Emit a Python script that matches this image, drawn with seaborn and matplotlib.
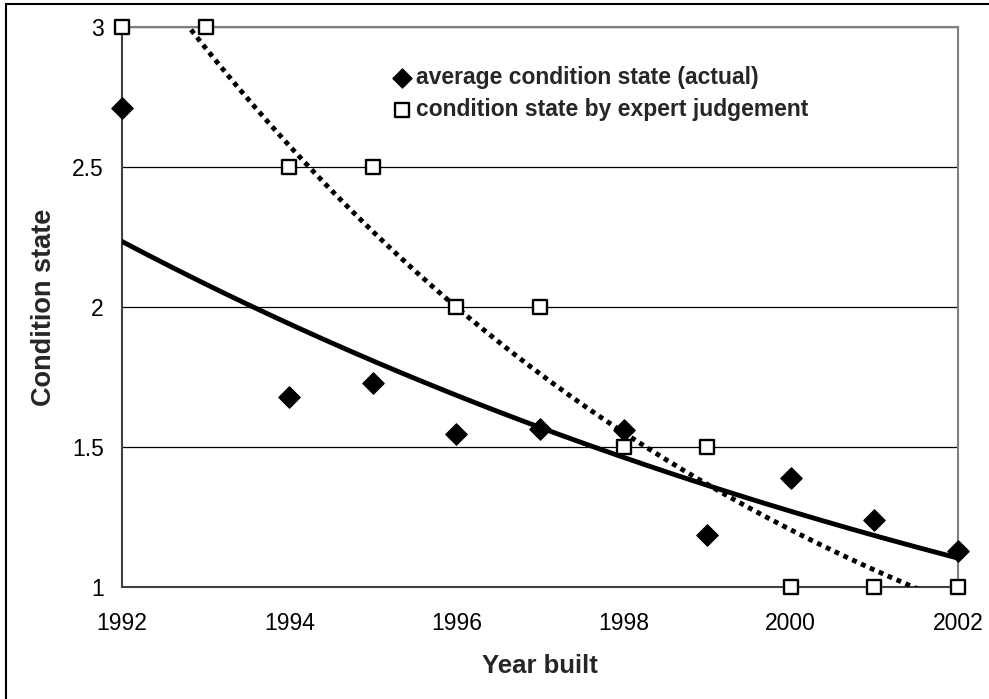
import numpy as np
import pandas as pd
import matplotlib
matplotlib.use('Agg')
import matplotlib.pyplot as plt
import seaborn as sns
from matplotlib.patches import Rectangle

# Data
years_actual = [1992, 1994, 1995, 1996, 1997, 1998, 1999, 2000, 2001, 2002]
cond_actual = [2.71, 1.68, 1.73, 1.545, 1.565, 1.56, 1.185, 1.39, 1.24, 1.13]

years_expert = [1992, 1993, 1994, 1995, 1996, 1997, 1998, 1999, 2000, 2001, 2002]
cond_expert = [3, 3, 2.5, 2.5, 2, 2, 1.5, 1.5, 1, 1, 1]

x_ticks = [1992, 1994, 1996, 1998, 2000, 2002]
y_ticks = [1, 1.5, 2, 2.5, 3]

df_act = pd.DataFrame({'year': years_actual, 'cond': cond_actual})
df_exp = pd.DataFrame({'year': years_expert, 'cond': cond_expert})


# Exponential trendlines (like Excel's "exponential" trendline)
def exp_trend(df):
    b, a = np.polyfit(df['year'] - 1992, np.log(df['cond']), 1)
    xs = np.linspace(1992, 2002, 200)
    return pd.DataFrame({'year': xs, 'cond': np.exp(a + b * (xs - 1992))})


trend_act = exp_trend(df_act)
trend_exp = exp_trend(df_exp)

sns.set_style('white')
plt.rcParams['font.family'] = ['Liberation Sans', 'DejaVu Sans']

fig = plt.figure(figsize=(9.89, 6.99), dpi=100)
ax = fig.add_axes([122 / 989, 112 / 699, 836 / 989, 560 / 699])

# trendlines
sns.lineplot(data=trend_act, x='year', y='cond', ax=ax, color='black',
             lw=3.5, zorder=3)
sns.lineplot(data=trend_exp, x='year', y='cond', ax=ax, color='black',
             lw=3.5, linestyle=(0, (1, 1)), zorder=3)
for ln in ax.lines:
    ln.set_dash_capstyle('butt')

# points
sns.scatterplot(data=df_act, x='year', y='cond', ax=ax, marker='D', s=120,
                color='black', edgecolor='black', linewidth=0.8,
                label='average condition state (actual)', zorder=5, clip_on=False)
sns.scatterplot(data=df_exp, x='year', y='cond', ax=ax, marker='s', s=112,
                facecolor='white', edgecolor='black', linewidth=1.7,
                label='condition state by expert judgement', zorder=6, clip_on=False)

ax.set_xlim(1992, 2002)
ax.set_ylim(1, 3)
ax.set_xticks(x_ticks)
ax.set_yticks(y_ticks)
ax.set_yticklabels(['1', '1.5', '2', '2.5', '3'])
ax.yaxis.grid(True, color='black', lw=0.9)
ax.set_axisbelow(True)

for side in ['top', 'right']:
    ax.spines[side].set_color('#808080')
    ax.spines[side].set_linewidth(1.5)
for side in ['left', 'bottom']:
    ax.spines[side].set_color('#404040')
    ax.spines[side].set_linewidth(1.5)

ax.tick_params(axis='both', direction='out', length=5, width=1,
               color='#404040', labelsize=16.5, labelcolor='black')
ax.tick_params(axis='x', pad=13)
ax.tick_params(axis='y', pad=8)

ax.set_xlabel('Year built', fontsize=18.5, fontweight='bold', labelpad=14)
ax.set_ylabel('Condition state', fontsize=19.5, fontweight='bold', labelpad=11)

leg = ax.legend(frameon=False, loc='upper left', bbox_to_anchor=(0.322, 0.93),
                handletextpad=0.2, handlelength=0.9, borderpad=0, borderaxespad=0,
                labelspacing=0.4, markerscale=0.9,
                prop={'weight': 'bold', 'size': 16.5})

# outer chart border
fig.patches.append(Rectangle((6 / 989, -0.05), 1.2, 1.05 - 4 / 699,
                             transform=fig.transFigure, fill=False,
                             edgecolor='black', lw=1.5))

fig.savefig('out.png', dpi=100)
